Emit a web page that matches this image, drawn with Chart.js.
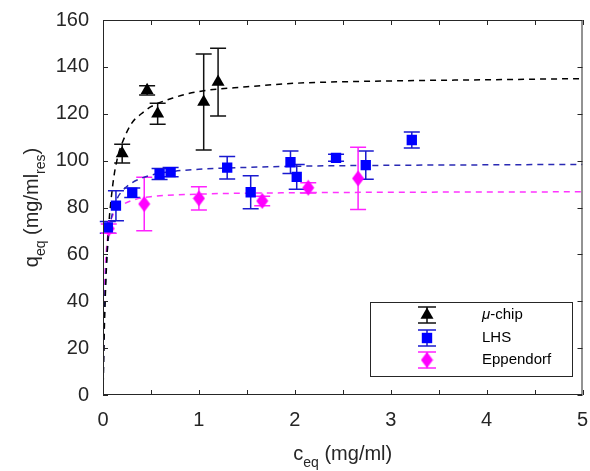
<!DOCTYPE html>
<html lang="en">
<head>
    <meta charset="UTF-8">
    <title>Adsorption isotherms</title>
    <style>
        body { margin: 0; background: #fff; }
        #wrap { width: 590px; height: 471px; position: relative; }
    </style>
</head>
<body>
    <div id="wrap"><canvas id="isoChart"></canvas></div>

    <script src="https://cdn.jsdelivr.net/npm/chart.js"></script>
    <script>
        // measured points (c_eq in mg/ml, q_eq in mg/ml resin, +/- error)
        const chipX = [0.2, 0.46, 0.57, 1.05, 1.2];
        const chipY = [103, 130, 120, 125, 133.5];
        const chipErr = [4, 2, 4.5, 20.5, 14.5];

        const lhsX = [0.05, 0.135, 0.305, 0.59, 0.705, 1.295, 1.54, 1.955, 2.02, 2.43, 2.74, 3.22];
        const lhsY = [71.5, 80.8, 86.3, 94.3, 95.1, 97, 86.5, 99.3, 93.1, 101.2, 98.1, 108.8];
        const lhsErr = [2.5, 6.4, 2, 2.3, 2, 4.8, 7, 4.8, 5.3, 1.5, 6, 3.4];

        const eppX = [0.06, 0.43, 1.0, 1.66, 2.14, 2.66];
        const eppY = [71, 81.5, 83.9, 82.8, 88.4, 92.4];
        const eppErr = [2, 11.4, 5, 2, 2.2, 13.3];

        // fitted curves
        const chipFitX = [0, 0.01, 0.02, 0.05, 0.1, 0.15, 0.2, 0.3, 0.4, 0.5, 0.75, 1, 1.5, 2, 3, 4, 5];
        const chipFitY = [0, 21, 37, 66, 89, 101, 107.5, 116, 120, 123, 127, 129.5, 131.5, 133, 134, 134.5, 135];
        const lhsFitX = [0, 0.01, 0.02, 0.05, 0.1, 0.15, 0.2, 0.3, 0.5, 0.75, 1, 1.5, 2, 3, 4, 5];
        const lhsFitY = [0, 27, 42, 64, 78, 84, 87, 90.5, 93.8, 95.5, 96.3, 97.1, 97.6, 98, 98.2, 98.4];
        const eppFitX = [0, 0.005, 0.01, 0.02, 0.05, 0.1, 0.2, 0.3, 0.5, 1, 2, 3, 5];
        const eppFitY = [0, 23, 37, 51, 68, 76.5, 81, 83, 84.6, 85.7, 86.3, 86.5, 86.7];

        const xTicks = [0, 1, 2, 3, 4, 5];
        const yTicks = [0, 20, 40, 60, 80, 100, 120, 140, 160];

        const FONT = '"Liberation Sans", Arial, sans-serif';
        const AXIS = '#262626';

        function pts(xs, ys) {
            return xs.map((x, i) => ({ x: x, y: ys[i] }));
        }

        // MATLAB style diamond (taller than wide)
        function makeDiamond(color) {
            const c = document.createElement('canvas');
            c.width = 13; c.height = 17;
            const g = c.getContext('2d');
            g.fillStyle = color;
            g.beginPath();
            g.moveTo(6.5, 0.5);
            g.lineTo(12.5, 8.5);
            g.lineTo(6.5, 16.5);
            g.lineTo(0.5, 8.5);
            g.closePath();
            g.fill();
            return c;
        }
        const diamond = makeDiamond('#ff00ff');

        const series = [
            { label: 'μ-chip', xs: chipX, ys: chipY, err: chipErr, color: '#000000', bar: '#111111', style: 'triangle', r: 7.5 },
            { label: 'LHS', xs: lhsX, ys: lhsY, err: lhsErr, color: '#0000ff', bar: '#1a1ad0', style: 'rect', r: 7.3 },
            { label: 'Eppendorf', xs: eppX, ys: eppY, err: eppErr, color: '#ff00ff', bar: '#ff22ff', style: diamond, r: 7 }
        ];

        // error bars, drawn through the scales
        const errorBars = {
            id: 'errorBars',
            beforeDatasetsDraw(chart) {
                const g = chart.ctx;
                const xs = chart.scales.x, ys = chart.scales.y;
                g.save();
                g.lineWidth = 1.5;
                series.forEach(s => {
                    g.strokeStyle = s.bar;
                    s.xs.forEach((x, i) => {
                        const px = xs.getPixelForValue(x);
                        const top = ys.getPixelForValue(s.ys[i] + s.err[i]);
                        const bot = ys.getPixelForValue(s.ys[i] - s.err[i]);
                        g.beginPath();
                        g.moveTo(px, top); g.lineTo(px, bot);
                        g.moveTo(px - 8, top); g.lineTo(px + 8, top);
                        g.moveTo(px - 8, bot); g.lineTo(px + 8, bot);
                        g.stroke();
                    });
                });
                g.restore();
            }
        };

        function drawSubText(g, parts, x, y, align) {
            // parts: [text, isSub]
            let total = 0;
            parts.forEach(p => {
                g.font = (p[1] ? '14px ' : '20px ') + FONT;
                total += g.measureText(p[0]).width;
            });
            let cx = align === 'center' ? x - total / 2 : x;
            parts.forEach(p => {
                g.font = (p[1] ? '14px ' : '20px ') + FONT;
                g.fillText(p[0], cx, p[1] ? y + 7 : y);
                cx += g.measureText(p[0]).width;
            });
        }

        function drawMarker(g, style, x, y, color) {
            g.fillStyle = color;
            g.beginPath();
            if (style === 'triangle') {
                const r = 7.5;
                g.moveTo(x, y - r);
                g.lineTo(x + r * Math.sin(2 * Math.PI / 3), y + r / 2);
                g.lineTo(x - r * Math.sin(2 * Math.PI / 3), y + r / 2);
                g.closePath();
                g.fill();
            } else if (style === 'rect') {
                g.fillRect(x - 5.2, y - 5.2, 10.4, 10.4);
            } else {
                g.drawImage(style, x - 6.5, y - 8.5);
            }
        }

        // box, inward ticks, axis titles and legend
        const frame = {
            id: 'frame',
            afterDraw(chart) {
                const g = chart.ctx;
                const a = chart.chartArea;
                const xs = chart.scales.x, ys = chart.scales.y;
                g.save();
                g.strokeStyle = AXIS;
                g.lineWidth = 1;
                g.strokeRect(a.left + 0.5, a.top + 0.5, a.right - a.left - 1, a.bottom - a.top - 1);
                g.beginPath();
                for (let v = 0; v <= 5; v += 0.5) {
                    const px = Math.round(xs.getPixelForValue(v)) + 0.5;
                    g.moveTo(px, a.bottom); g.lineTo(px, a.bottom - 5);
                    g.moveTo(px, a.top); g.lineTo(px, a.top + 5);
                }
                yTicks.forEach(v => {
                    const py = Math.round(ys.getPixelForValue(v)) + 0.5;
                    g.moveTo(a.left, py); g.lineTo(a.left + 5, py);
                    g.moveTo(a.right, py); g.lineTo(a.right - 5, py);
                });
                g.stroke();

                g.fillStyle = AXIS;
                g.textBaseline = 'alphabetic';
                drawSubText(g, [['c', false], ['eq', true], [' (mg/ml)', false]], (a.left + a.right) / 2, 460, 'center');

                g.save();
                g.translate(38, (a.top + a.bottom) / 2);
                g.rotate(-Math.PI / 2);
                drawSubText(g, [['q', false], ['eq', true], [' (mg/ml', false], ['res', true], [')', false]], 0, 0, 'center');
                g.restore();

                // legend
                const lx = 370, ly = 302, lw = 202, lh = 74;
                g.fillStyle = '#ffffff';
                g.fillRect(lx, ly, lw, lh);
                g.strokeStyle = AXIS;
                g.strokeRect(lx + 0.5, ly + 0.5, lw, lh);
                const rows = [315, 338, 360];
                series.forEach((s, i) => {
                    const cy = rows[i];
                    const cx = 427;
                    g.strokeStyle = s.bar;
                    g.lineWidth = 1.5;
                    g.beginPath();
                    g.moveTo(cx, cy - 8); g.lineTo(cx, cy + 8);
                    g.moveTo(cx - 9, cy - 8); g.lineTo(cx + 9, cy - 8);
                    g.moveTo(cx - 9, cy + 8); g.lineTo(cx + 9, cy + 8);
                    g.stroke();
                    drawMarker(g, s.style, cx, cy, s.color);
                    g.fillStyle = '#000000';
                    g.textBaseline = 'middle';
                    if (i === 0) {
                        g.font = 'italic 15px ' + FONT;
                        g.fillText('μ', 482, cy);
                        const w = g.measureText('μ').width;
                        g.font = '15px ' + FONT;
                        g.fillText('-chip', 482 + w, cy);
                    } else {
                        g.font = '15px ' + FONT;
                        g.fillText(s.label, 482, cy);
                    }
                });
                g.restore();
            }
        };

        const markerSets = series.map(s => ({
            label: s.label,
            data: pts(s.xs, s.ys),
            showLine: false,
            pointStyle: s.style,
            pointRadius: s.r,
            pointHoverRadius: s.r,
            backgroundColor: s.color,
            borderColor: s.color,
            borderWidth: 0
        }));

        function fitSet(label, xs, ys, color) {
            return {
                label: label,
                data: pts(xs, ys),
                showLine: true,
                pointRadius: 0,
                borderColor: color,
                borderWidth: 1.5,
                borderDash: [6, 5],
                cubicInterpolationMode: 'monotone',
                fill: false
            };
        }

        const ctx = document.getElementById('isoChart').getContext('2d');
        const isoChart = new Chart(ctx, {
            type: 'scatter',
            data: {
                datasets: markerSets.concat([
                    fitSet('chip fit', chipFitX, chipFitY, '#000000'),
                    fitSet('LHS fit', lhsFitX, lhsFitY, '#2a2ab4'),
                    fitSet('Eppendorf fit', eppFitX, eppFitY, '#ff33ff')
                ])
            },
            options: {
                responsive: true,
                maintainAspectRatio: false,
                animation: false,
                layout: { padding: { top: 20, right: 7, left: 0, bottom: 0 } },
                plugins: {
                    legend: { display: false },
                    tooltip: { enabled: false }
                },
                scales: {
                    x: {
                        type: 'linear',
                        min: 0,
                        max: 5,
                        afterFit: s => { s.height = 76; },
                        afterBuildTicks: s => { s.ticks = xTicks.map(v => ({ value: v })); },
                        grid: { display: false, drawTicks: true, tickLength: 13 },
                        border: { display: false },
                        ticks: { padding: 0, color: AXIS, font: { family: FONT, size: 20 } }
                    },
                    y: {
                        min: 0,
                        max: 160,
                        afterFit: s => { s.width = 103; },
                        afterBuildTicks: s => { s.ticks = yTicks.map(v => ({ value: v })); },
                        grid: { display: false, drawTicks: true, tickLength: 14 },
                        border: { display: false },
                        ticks: { padding: 0, color: AXIS, font: { family: FONT, size: 20 } }
                    }
                }
            },
            plugins: [errorBars, frame]
        });
    </script>
</body>
</html>
